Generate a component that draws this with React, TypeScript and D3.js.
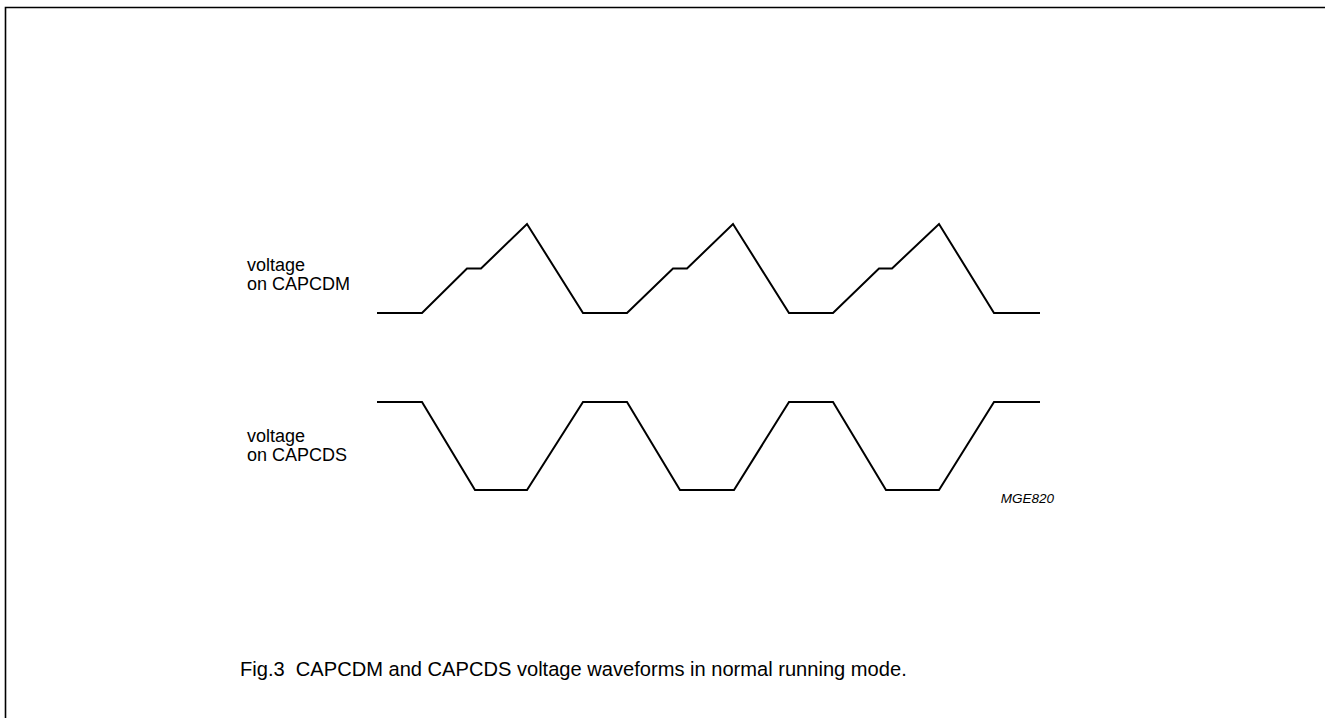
import React from "react";
import * as d3 from "d3";

// time axis (arbitrary units), shared by both traces
const cdmTime = [0, 4.5, 9.0, 10.4, 15.0, 20.6, 25.0, 29.6, 31.0, 35.6, 41.2, 45.6, 50.2, 51.5, 56.2, 61.7, 66.3];
const cdmLevel = [0, 0, 1, 1, 2, 0, 0, 1, 1, 2, 0, 0, 1, 1, 2, 0, 0];

const cdsTime = [0, 4.5, 9.8, 15.0, 20.6, 25.0, 30.3, 35.7, 41.2, 45.6, 50.9, 56.2, 61.7, 66.3];
const cdsLevel = [1, 1, 0, 0, 1, 1, 0, 0, 1, 1, 0, 0, 1, 1];

const cdmLabel = ["voltage", "on CAPCDM"];
const cdsLabel = ["voltage", "on CAPCDS"];
const figCode = "MGE820";
const caption = "Fig.3  CAPCDM and CAPCDS voltage waveforms in normal running mode.";

const W = 1325;
const H = 718;
const font = "'Liberation Sans', Arial, Helvetica, sans-serif";

const App: React.FC = () => {
  const x = d3.scaleLinear().domain([0, 66.3]).range([377, 1040]);
  const yCdm = d3.scaleLinear().domain([0, 2]).range([313, 224]);
  const yCds = d3.scaleLinear().domain([0, 1]).range([490, 402]);

  const cdmLine = d3
    .line<number>()
    .x((d, i) => x(cdmTime[i]))
    .y((d) => yCdm(d));

  const cdsLine = d3
    .line<number>()
    .x((d, i) => x(cdsTime[i]))
    .y((d) => yCds(d));

  return (
    <svg
      width={W}
      height={H}
      style={{ position: "absolute", left: 0, top: 0, background: "#fff" }}
    >
      {/* frame: only top and left edges are in view */}
      <path d={`M5.5,${H}V7.5H${W}`} fill="none" stroke="#000" strokeWidth={1.6} />

      <path d={cdmLine(cdmLevel) || ""} fill="none" stroke="#000" strokeWidth={2} />
      <path d={cdsLine(cdsLevel) || ""} fill="none" stroke="#000" strokeWidth={2} />

      <g fontFamily={font} fontSize={18} fill="#000">
        {cdmLabel.map((t, i) => (
          <text key={"m" + i} x={247} y={271 + i * 19}>
            {t}
          </text>
        ))}
        {cdsLabel.map((t, i) => (
          <text key={"s" + i} x={247} y={442 + i * 19}>
            {t}
          </text>
        ))}
      </g>

      <text x={1054} y={503} textAnchor="end" fontFamily={font} fontSize={13.5} fontStyle="italic">
        {figCode}
      </text>

      <text x={240} y={676} fontFamily={font} fontSize={20.1} style={{ whiteSpace: "pre" }}>
        {caption}
      </text>
    </svg>
  );
};

export default App;
